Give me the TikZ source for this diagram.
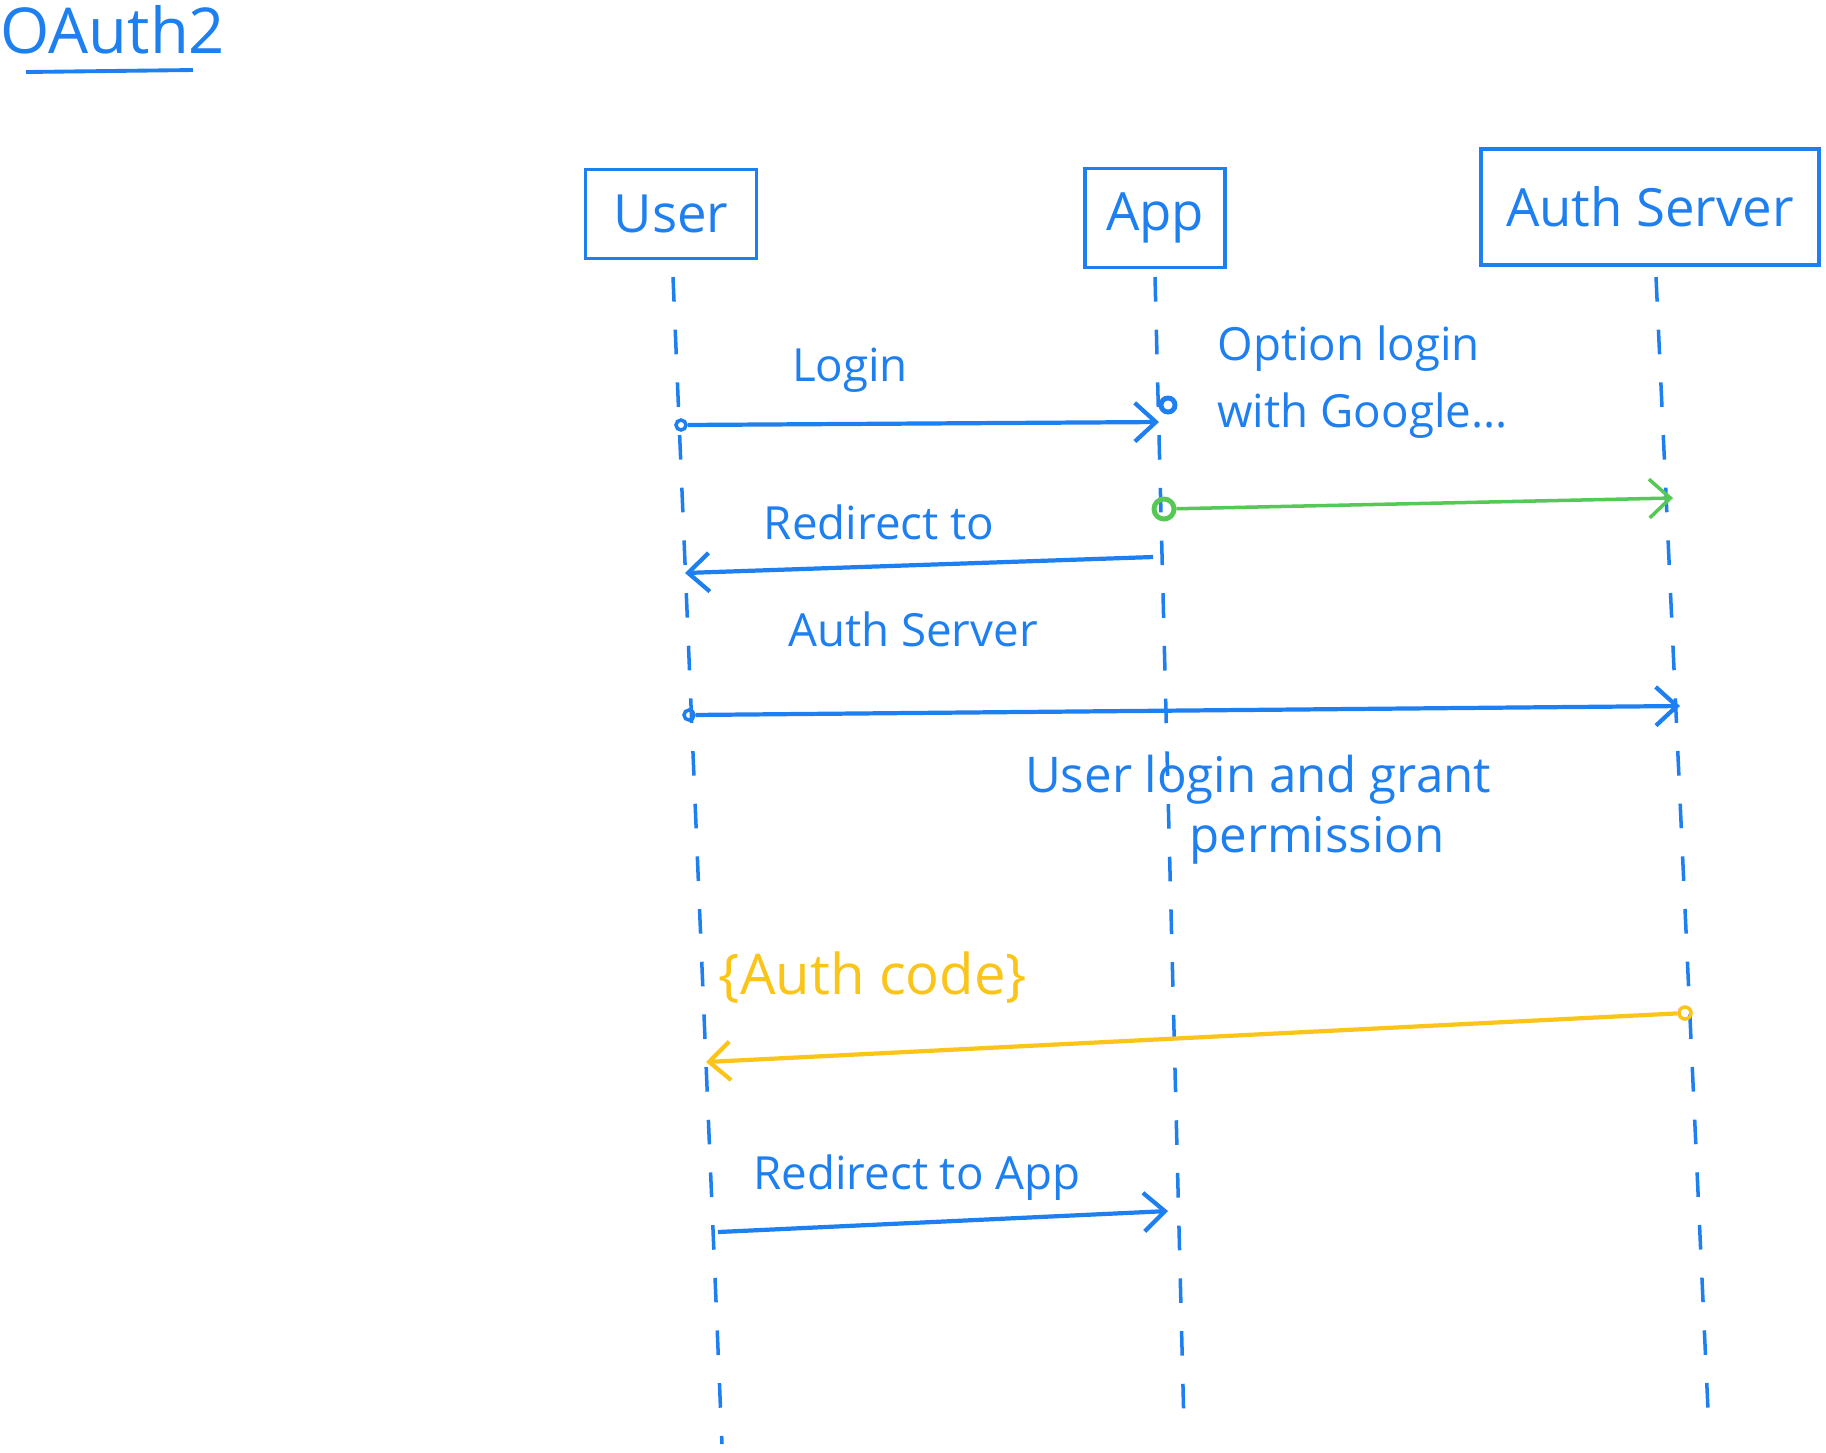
\documentclass[tikz,border=0pt]{standalone}
\usepackage{fontspec}
\setmainfont{Open Sans}
\usetikzlibrary{arrows.meta}

\definecolor{pen}{RGB}{30,128,240}
\definecolor{penGreen}{RGB}{85,200,85}
\definecolor{penYellow}{RGB}{250,196,25}

\begin{document}
\begin{tikzpicture}[x=0.1mm, y=-0.1mm,
    every node/.style={text=pen, font=\fontsize{13}{19}\selectfont},
    actor/.style={draw=pen, line width=1.1pt, inner sep=0pt, font=\fontsize{15}{18}\selectfont},
    life/.style={pen, line width=1pt, dash pattern=on 7pt off 8pt},
    msg/.style={line width=1.2pt, -{Straight Barb[length=6pt,width=11pt]}},
    dot/.style={circle, draw, line width=1pt, inner sep=0pt, minimum size=1mm}]

    \useasboundingbox (0,0) rectangle (1826,1452);

    \node (title) at (113,30) {\fontsize{18}{20}\selectfont OAuth2};
    \draw[pen, line width=1.1pt] (26,72) -- (193,70); % underline of title

    \node[actor, minimum width=17.1mm, minimum height=8.9mm] (user) at (671,214) {User};
    \node[actor, minimum width=14mm, minimum height=9.9mm] (app) at (1155,218) {App};
    \node[actor, minimum width=33.8mm, minimum height=11.6mm] (server) at (1650,207) {Auth Server};

    \coordinate (utop) at (673,277);   \coordinate (ubot) at (722,1444);
    \coordinate (atop) at (1155,277);  \coordinate (abot) at (1184,1427);
    \coordinate (stop) at (1656,277);  \coordinate (sbot) at (1709,1432);

    \draw[life] (utop) -- (ubot); % user lifeline
    \draw[life] (atop) -- (abot); % app lifeline
    \draw[life] (stop) -- (sbot); % server lifeline

    % login
    \node[dot, draw=pen] (u1) at (681,425) {};
    \coordinate (a1) at (1159,422);
    \draw[msg, pen] (u1) -- (a1);
    \node at (850,370) {Login};

    % option with google
    \node[dot, draw=pen, line width=1.4pt, minimum size=1.4mm] (optdot) at (1168,405) {};
    \node[anchor=west, align=left] (option) at (1205,382) {Option login\\with Google...};

    % app -> server (green)
    \node[dot, draw=penGreen, line width=1.4pt, minimum size=2mm] (a2) at (1164,509) {};
    \coordinate (s2) at (1673,498);
    \draw[msg, penGreen, line width=1pt] (a2) -- (s2);

    % redirect to auth server
    \coordinate (a3) at (1153,557);
    \coordinate (u3) at (685,573);
    \draw[msg, pen] (a3) -- (u3);
    \node at (879,522) {Redirect to};
    \node at (913,629) {Auth Server};

    % user -> server
    \node[dot, draw=pen] (u4) at (689,715) {};
    \coordinate (s4) at (1680,706);
    \draw[msg, pen] (u4) -- (s4);
    \node[align=center, font=\fontsize{14}{17}\selectfont] at (1258,810) {User login and grant\\\hspace*{11.8mm}permission};

    % auth code back to user (yellow)
    \node[dot, draw=penYellow, minimum size=1.2mm] (s5) at (1685,1013) {};
    \coordinate (u5) at (706,1062);
    \draw[msg, penYellow] (s5) -- (u5);
    \node[text=penYellow, font=\fontsize{16}{18}\selectfont] at (873,978) {\{Auth code\}};

    % redirect to app
    \coordinate (u6) at (718,1232);
    \coordinate (a6) at (1168,1211);
    \draw[msg, pen] (u6) -- (a6);
    \node at (917,1178) {Redirect to App};
\end{tikzpicture}
\end{document}
